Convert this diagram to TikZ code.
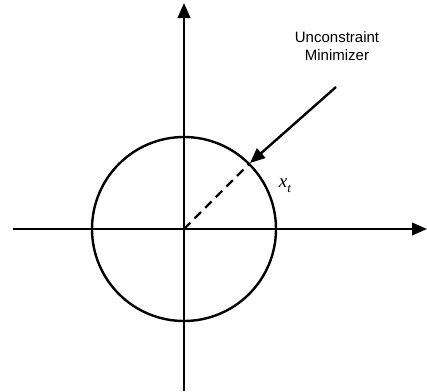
\documentclass[tikz,border=0pt]{standalone}
\usepackage{fontspec}
\setmainfont{Liberation Sans}
\newfontfamily\serifit{Liberation Serif}
\usetikzlibrary{arrows.meta,calc}
\begin{document}
\begin{tikzpicture}[x=1pt,y=-1pt,
  axis/.style={line width=2.4pt,-{Triangle[length=15pt,width=12.5pt]}},
  plain/.style={line width=2.4pt},
  lbl/.style={font=\fontsize{15}{18}\selectfont,align=center,inner sep=0pt}]
\useasboundingbox (0,0) rectangle (427,391);
\coordinate (O) at (184,229);
\coordinate (L) at (13,229);
\coordinate (R) at (427,229);
\coordinate (B) at (184,391);
\coordinate (T) at (184,3);
\draw[axis] (L) -- (R);
\draw[axis] (B) -- (T);
\draw[plain] (O) circle[radius=92];
\coordinate (P) at ($(O)+(-45:92)$);
\draw[plain,dash pattern=on 9pt off 6pt] (O) -- (P);
\node[lbl] (lab) at (337,46) {Unconstraint\\Minimizer};
\coordinate (S) at (336,87);
\coordinate (E) at (250,163);
\draw[axis] (S) -- (E);
\node[inner sep=0pt] (xt) at (285,186) {\serifit\itshape\fontsize{19}{19}\selectfont x\raisebox{-5pt}{\fontsize{13}{13}\selectfont t}};
\end{tikzpicture}
\end{document}
